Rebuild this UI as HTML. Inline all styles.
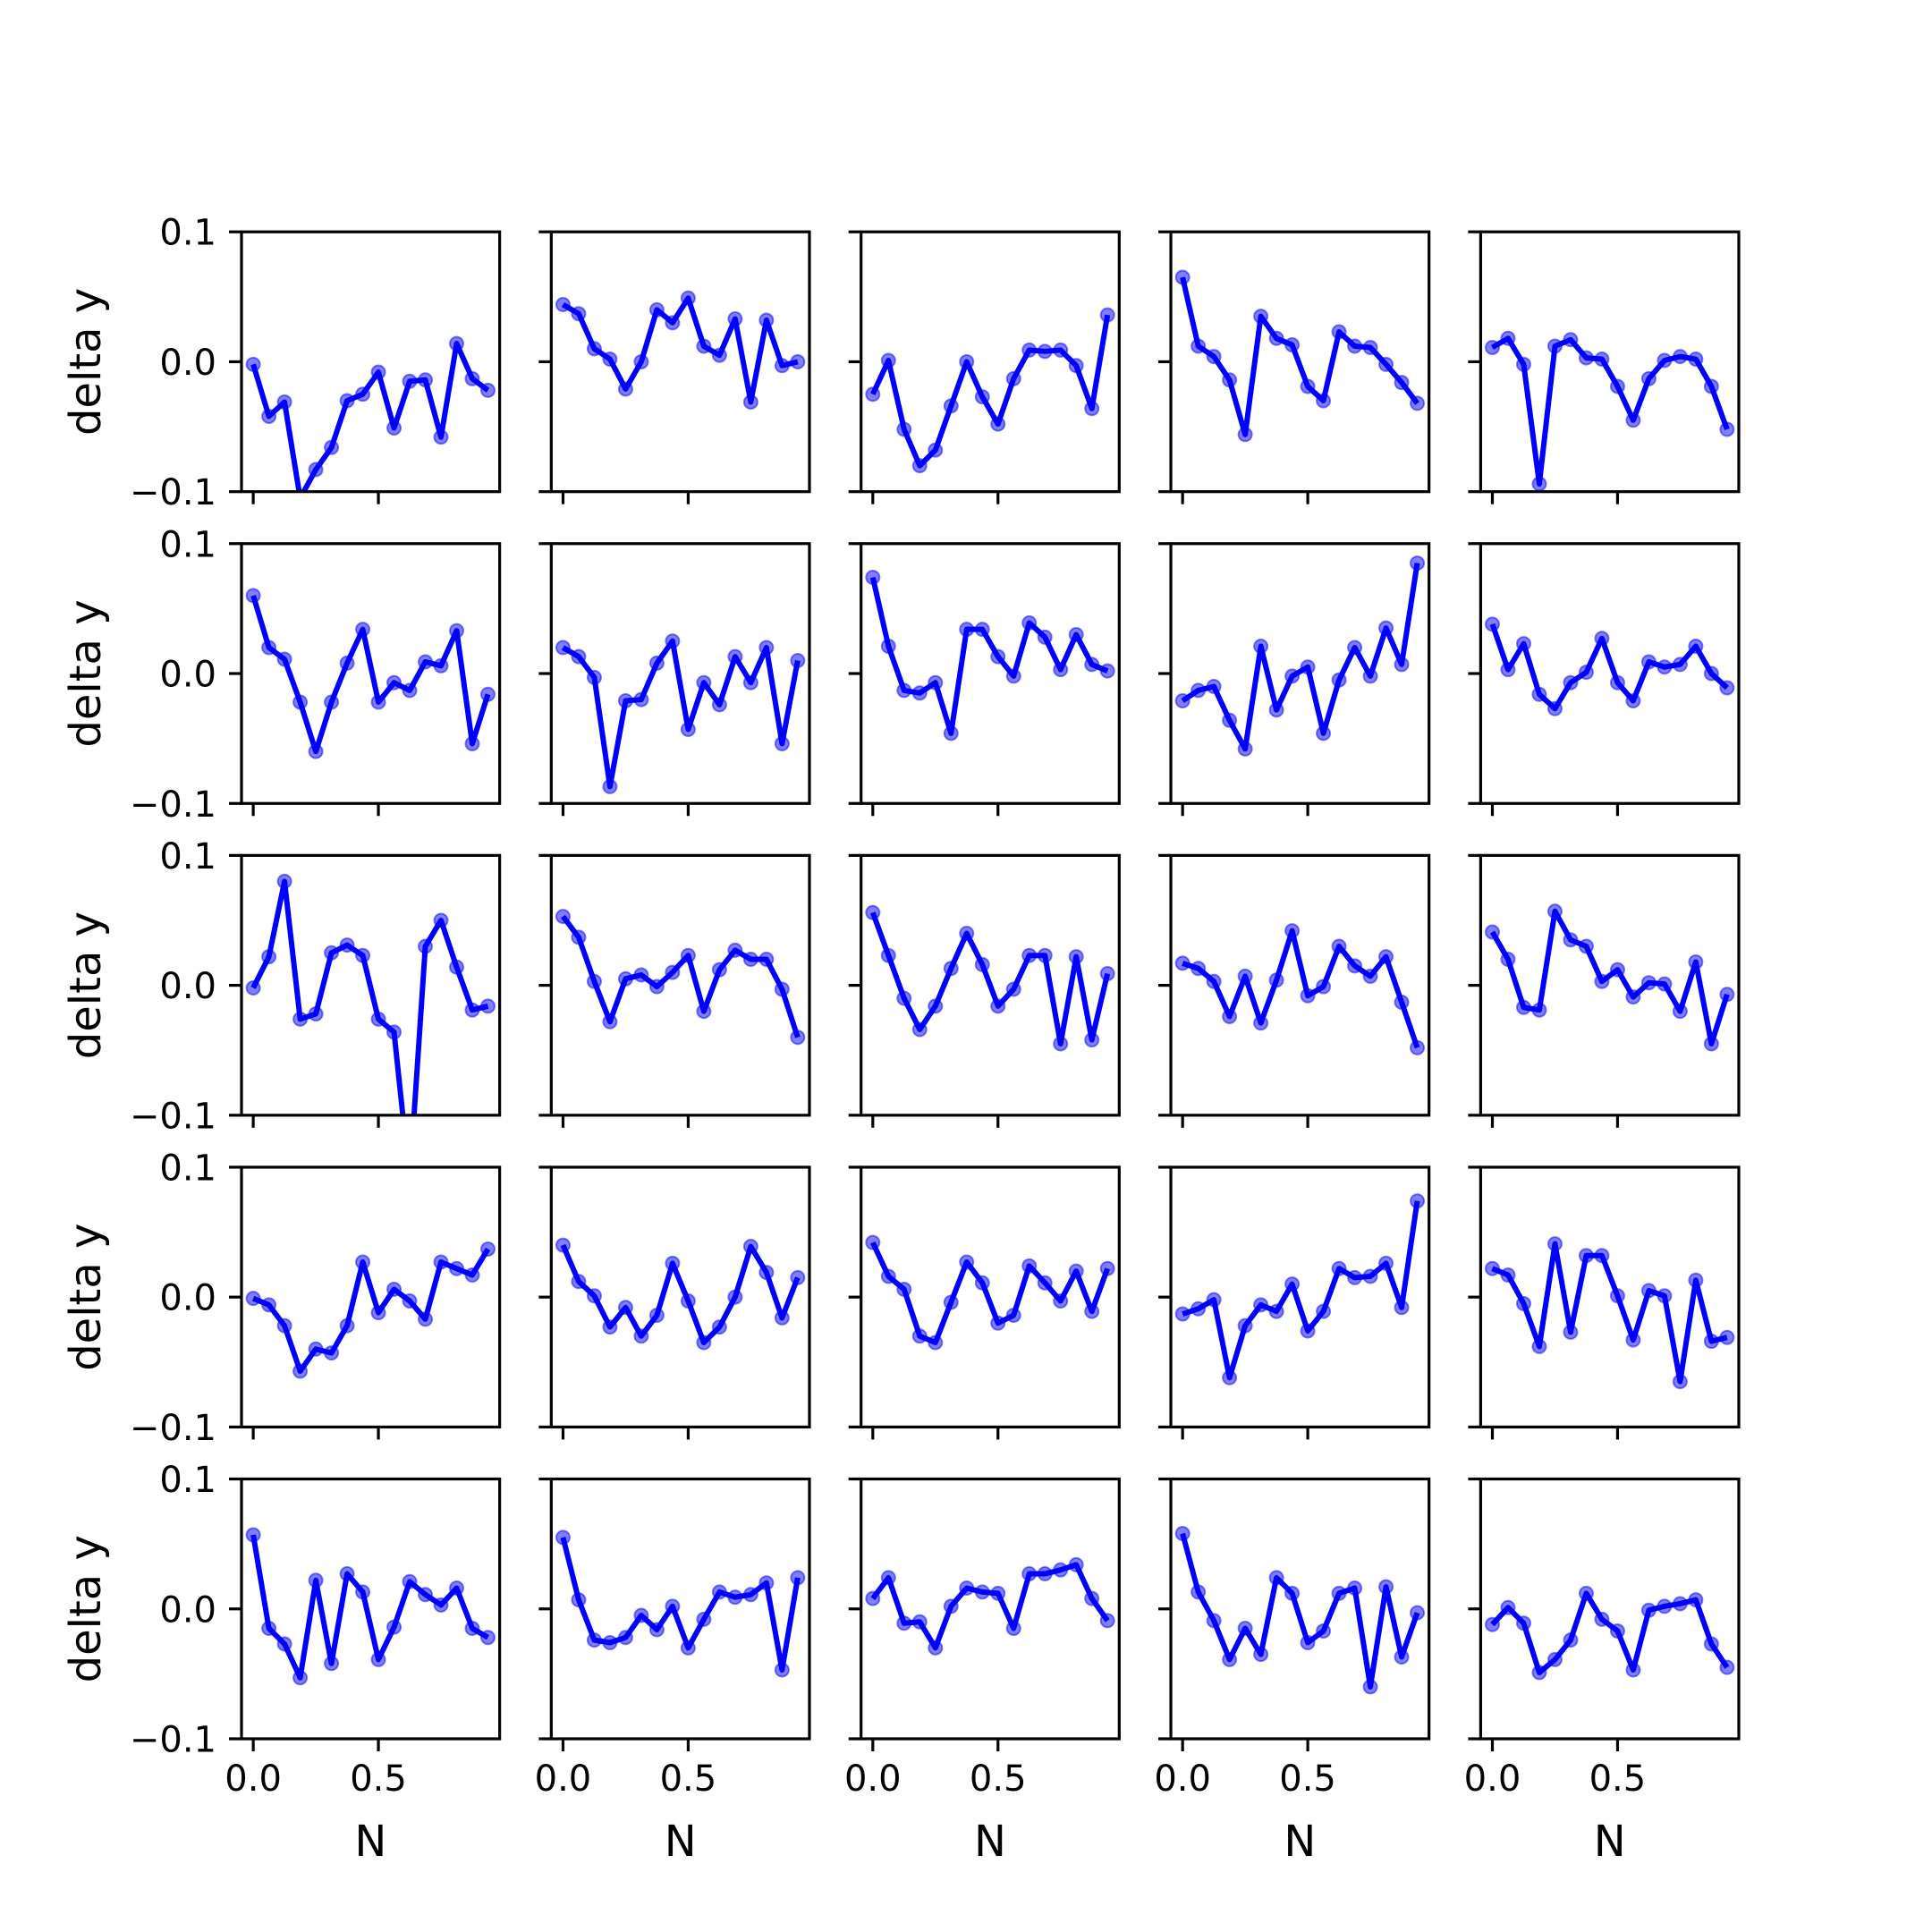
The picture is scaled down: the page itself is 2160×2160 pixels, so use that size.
<!DOCTYPE html>
<html><head><meta charset="utf-8"><style>
html,body{margin:0;padding:0;background:#fff;}
svg{display:block;font-family:"DejaVu Sans","Liberation Sans",sans-serif;}
</style></head><body>
<svg id="fig" width="2160" height="2160" viewBox="0 0 2160 2160" xmlns="http://www.w3.org/2000/svg">
<rect width="2160" height="2160" fill="#fff"/>
</svg>
<script>
const xTicks = [0.0, 0.5];
const xTickLabels = ["0.0", "0.5"];
const yTicks = [-0.1, 0.0, 0.1];
const yTickLabels = ["\u22120.1", "0.0", "0.1"];
const nPoints = 16;
const s_r1c1 = [-0.002,-0.042,-0.031,-0.105,-0.083,-0.066,-0.030,-0.025,-0.008,-0.051,-0.015,-0.014,-0.058,0.014,-0.013,-0.022];
const s_r1c2 = [0.044,0.037,0.010,0.002,-0.021,0.000,0.040,0.030,0.049,0.012,0.005,0.033,-0.031,0.032,-0.003,0.000];
const s_r1c3 = [-0.025,0.001,-0.052,-0.080,-0.068,-0.034,0.000,-0.027,-0.048,-0.013,0.009,0.008,0.009,-0.003,-0.036,0.036];
const s_r1c4 = [0.065,0.012,0.004,-0.014,-0.056,0.035,0.018,0.013,-0.019,-0.030,0.023,0.012,0.011,-0.002,-0.016,-0.032];
const s_r1c5 = [0.011,0.018,-0.002,-0.094,0.012,0.017,0.003,0.002,-0.019,-0.045,-0.013,0.001,0.004,0.002,-0.019,-0.052];
const s_r2c1 = [0.060,0.020,0.011,-0.022,-0.060,-0.022,0.008,0.034,-0.022,-0.007,-0.013,0.009,0.006,0.033,-0.054,-0.016];
const s_r2c2 = [0.020,0.013,-0.003,-0.087,-0.021,-0.020,0.008,0.025,-0.043,-0.007,-0.024,0.013,-0.007,0.020,-0.054,0.010];
const s_r2c3 = [0.074,0.021,-0.013,-0.015,-0.007,-0.046,0.034,0.034,0.013,-0.002,0.039,0.028,0.003,0.030,0.007,0.002];
const s_r2c4 = [-0.021,-0.013,-0.010,-0.036,-0.058,0.021,-0.028,-0.002,0.005,-0.046,-0.005,0.020,-0.002,0.035,0.007,0.085];
const s_r2c5 = [0.038,0.003,0.023,-0.016,-0.027,-0.007,0.001,0.027,-0.007,-0.021,0.009,0.005,0.007,0.021,0.000,-0.011];
const s_r3c1 = [-0.002,0.022,0.080,-0.026,-0.022,0.025,0.031,0.023,-0.026,-0.036,-0.150,0.030,0.050,0.014,-0.019,-0.016];
const s_r3c2 = [0.053,0.037,0.003,-0.028,0.005,0.008,-0.001,0.010,0.023,-0.020,0.012,0.027,0.020,0.020,-0.003,-0.040];
const s_r3c3 = [0.056,0.023,-0.010,-0.034,-0.016,0.013,0.040,0.016,-0.016,-0.003,0.023,0.023,-0.045,0.022,-0.042,0.009];
const s_r3c4 = [0.017,0.013,0.003,-0.024,0.007,-0.029,0.004,0.042,-0.008,-0.001,0.030,0.015,0.007,0.022,-0.013,-0.048];
const s_r3c5 = [0.041,0.020,-0.017,-0.019,0.057,0.035,0.030,0.003,0.012,-0.009,0.002,0.001,-0.020,0.018,-0.045,-0.007];
const s_r4c1 = [-0.001,-0.006,-0.022,-0.057,-0.040,-0.043,-0.022,0.027,-0.012,0.006,-0.003,-0.017,0.027,0.022,0.017,0.037];
const s_r4c2 = [0.040,0.012,0.001,-0.023,-0.008,-0.030,-0.014,0.026,-0.003,-0.035,-0.023,0.000,0.039,0.019,-0.016,0.015];
const s_r4c3 = [0.042,0.016,0.006,-0.030,-0.035,-0.004,0.027,0.011,-0.020,-0.014,0.024,0.011,-0.003,0.020,-0.011,0.022];
const s_r4c4 = [-0.013,-0.009,-0.002,-0.062,-0.022,-0.006,-0.011,0.010,-0.026,-0.011,0.022,0.015,0.016,0.026,-0.008,0.074];
const s_r4c5 = [0.022,0.017,-0.005,-0.038,0.041,-0.027,0.032,0.032,0.001,-0.033,0.005,0.001,-0.065,0.013,-0.034,-0.031];
const s_r5c1 = [0.057,-0.015,-0.027,-0.053,0.022,-0.042,0.027,0.013,-0.039,-0.014,0.021,0.011,0.003,0.016,-0.015,-0.022];
const s_r5c2 = [0.055,0.007,-0.024,-0.026,-0.022,-0.005,-0.016,0.002,-0.030,-0.008,0.013,0.009,0.011,0.020,-0.047,0.024];
const s_r5c3 = [0.008,0.024,-0.011,-0.010,-0.030,0.002,0.016,0.013,0.012,-0.015,0.027,0.027,0.030,0.034,0.008,-0.009];
const s_r5c4 = [0.058,0.013,-0.009,-0.039,-0.015,-0.035,0.024,0.012,-0.026,-0.017,0.012,0.016,-0.060,0.017,-0.037,-0.003];
const s_r5c5 = [-0.012,0.001,-0.011,-0.049,-0.039,-0.024,0.012,-0.008,-0.017,-0.047,-0.001,0.002,0.004,0.007,-0.027,-0.045];
const allSeries = [
 [s_r1c1,s_r1c2,s_r1c3,s_r1c4,s_r1c5],
 [s_r2c1,s_r2c2,s_r2c3,s_r2c4,s_r2c5],
 [s_r3c1,s_r3c2,s_r3c3,s_r3c4,s_r3c5],
 [s_r4c1,s_r4c2,s_r4c3,s_r4c4,s_r4c5],
 [s_r5c1,s_r5c2,s_r5c3,s_r5c4,s_r5c5]];

const NS = "http://www.w3.org/2000/svg";
const fig = document.getElementById('fig');
const L = 270, R = 1944, T = 259.2, B = 1944;
const aw = (R - L) / 5.8, ah = (B - T) / 5.8;
const gx = aw * 0.2, gy = ah * 0.2;
const xmin = -0.046875, xmax = 0.984375, ymin = -0.1, ymax = 0.1;
function mk(tag, attrs, parent) {
  const e = document.createElementNS(NS, tag);
  for (const k in attrs) e.setAttribute(k, attrs[k]);
  (parent || fig).appendChild(e);
  return e;
}
const defs = mk('defs', {});
for (let r = 0; r < 5; r++) {
  for (let c = 0; c < 5; c++) {
    const x0 = L + c * (aw + gx), y0 = T + r * (ah + gy);
    const sx = v => x0 + (v - xmin) / (xmax - xmin) * aw;
    const sy = v => y0 + ah - (v - ymin) / (ymax - ymin) * ah;
    const g = mk('g', {});
    
    
    const cp = mk('clipPath', {id: 'cp' + r + c}, defs);
    mk('rect', {x: x0, y: y0, width: aw, height: ah}, cp);
    const data = allSeries[r][c];
    const pts = data.map((v, i) => sx(i / nPoints).toFixed(2) + ',' + sy(v).toFixed(2)).join(' ');
    const pg = mk('g', {'clip-path': 'url(#cp' + r + c + ')'}, g);
    const line = mk('polyline', {points: pts, fill: 'none', stroke: '#0000ff', 'stroke-width': 6, 'stroke-linejoin': 'round'}, pg);
    
    
    data.forEach((v, i) => {
      const m = mk('circle', {cx: sx(i / nPoints), cy: sy(v), r: 7.5, fill: '#0000ff', 'fill-opacity': 0.5, stroke: '#0000ff', 'stroke-opacity': 0.5, 'stroke-width': 2}, pg);
      
      
    });
    const frame = mk('rect', {x: x0, y: y0, width: aw, height: ah, fill: 'none', stroke: '#000', 'stroke-width': 3.2}, g);
    
    
    xTicks.forEach((t, i) => {
      const tx = sx(t);
      const tk = mk('line', {x1: tx, x2: tx, y1: y0 + ah, y2: y0 + ah + 14, stroke: '#000', 'stroke-width': 3.2}, g);
      
      
      if (r === 4) {
        const tl = mk('text', {x: tx, y: y0 + ah + 28 + 30, 'text-anchor': 'middle', 'font-size': 40, fill: '#000'}, g);
        tl.textContent = xTickLabels[i];
        
        
      }
    });
    yTicks.forEach((t, i) => {
      const ty = sy(t);
      const tk = mk('line', {x1: x0 - 14, x2: x0, y1: ty, y2: ty, stroke: '#000', 'stroke-width': 3.2}, g);
      
      
      if (c === 0) {
        const tl = mk('text', {x: x0 - 28, y: ty + 14.5, 'text-anchor': 'end', 'font-size': 40, fill: '#000'}, g);
        tl.textContent = yTickLabels[i];
        
        
      }
    });
    if (c === 0) {
      const yl = mk('text', {x: 0, y: 0, 'text-anchor': 'middle', 'font-size': 48, fill: '#000', transform: 'translate(112,' + (y0 + ah / 2) + ') rotate(-90)'}, g);
      yl.textContent = 'delta y';
      
      
    }
    if (r === 4) {
      const xl = mk('text', {x: x0 + aw / 2, y: 2075, 'text-anchor': 'middle', 'font-size': 48, fill: '#000'}, g);
      xl.textContent = 'N';
      
      
    }
  }
}
</script>
</body></html>
